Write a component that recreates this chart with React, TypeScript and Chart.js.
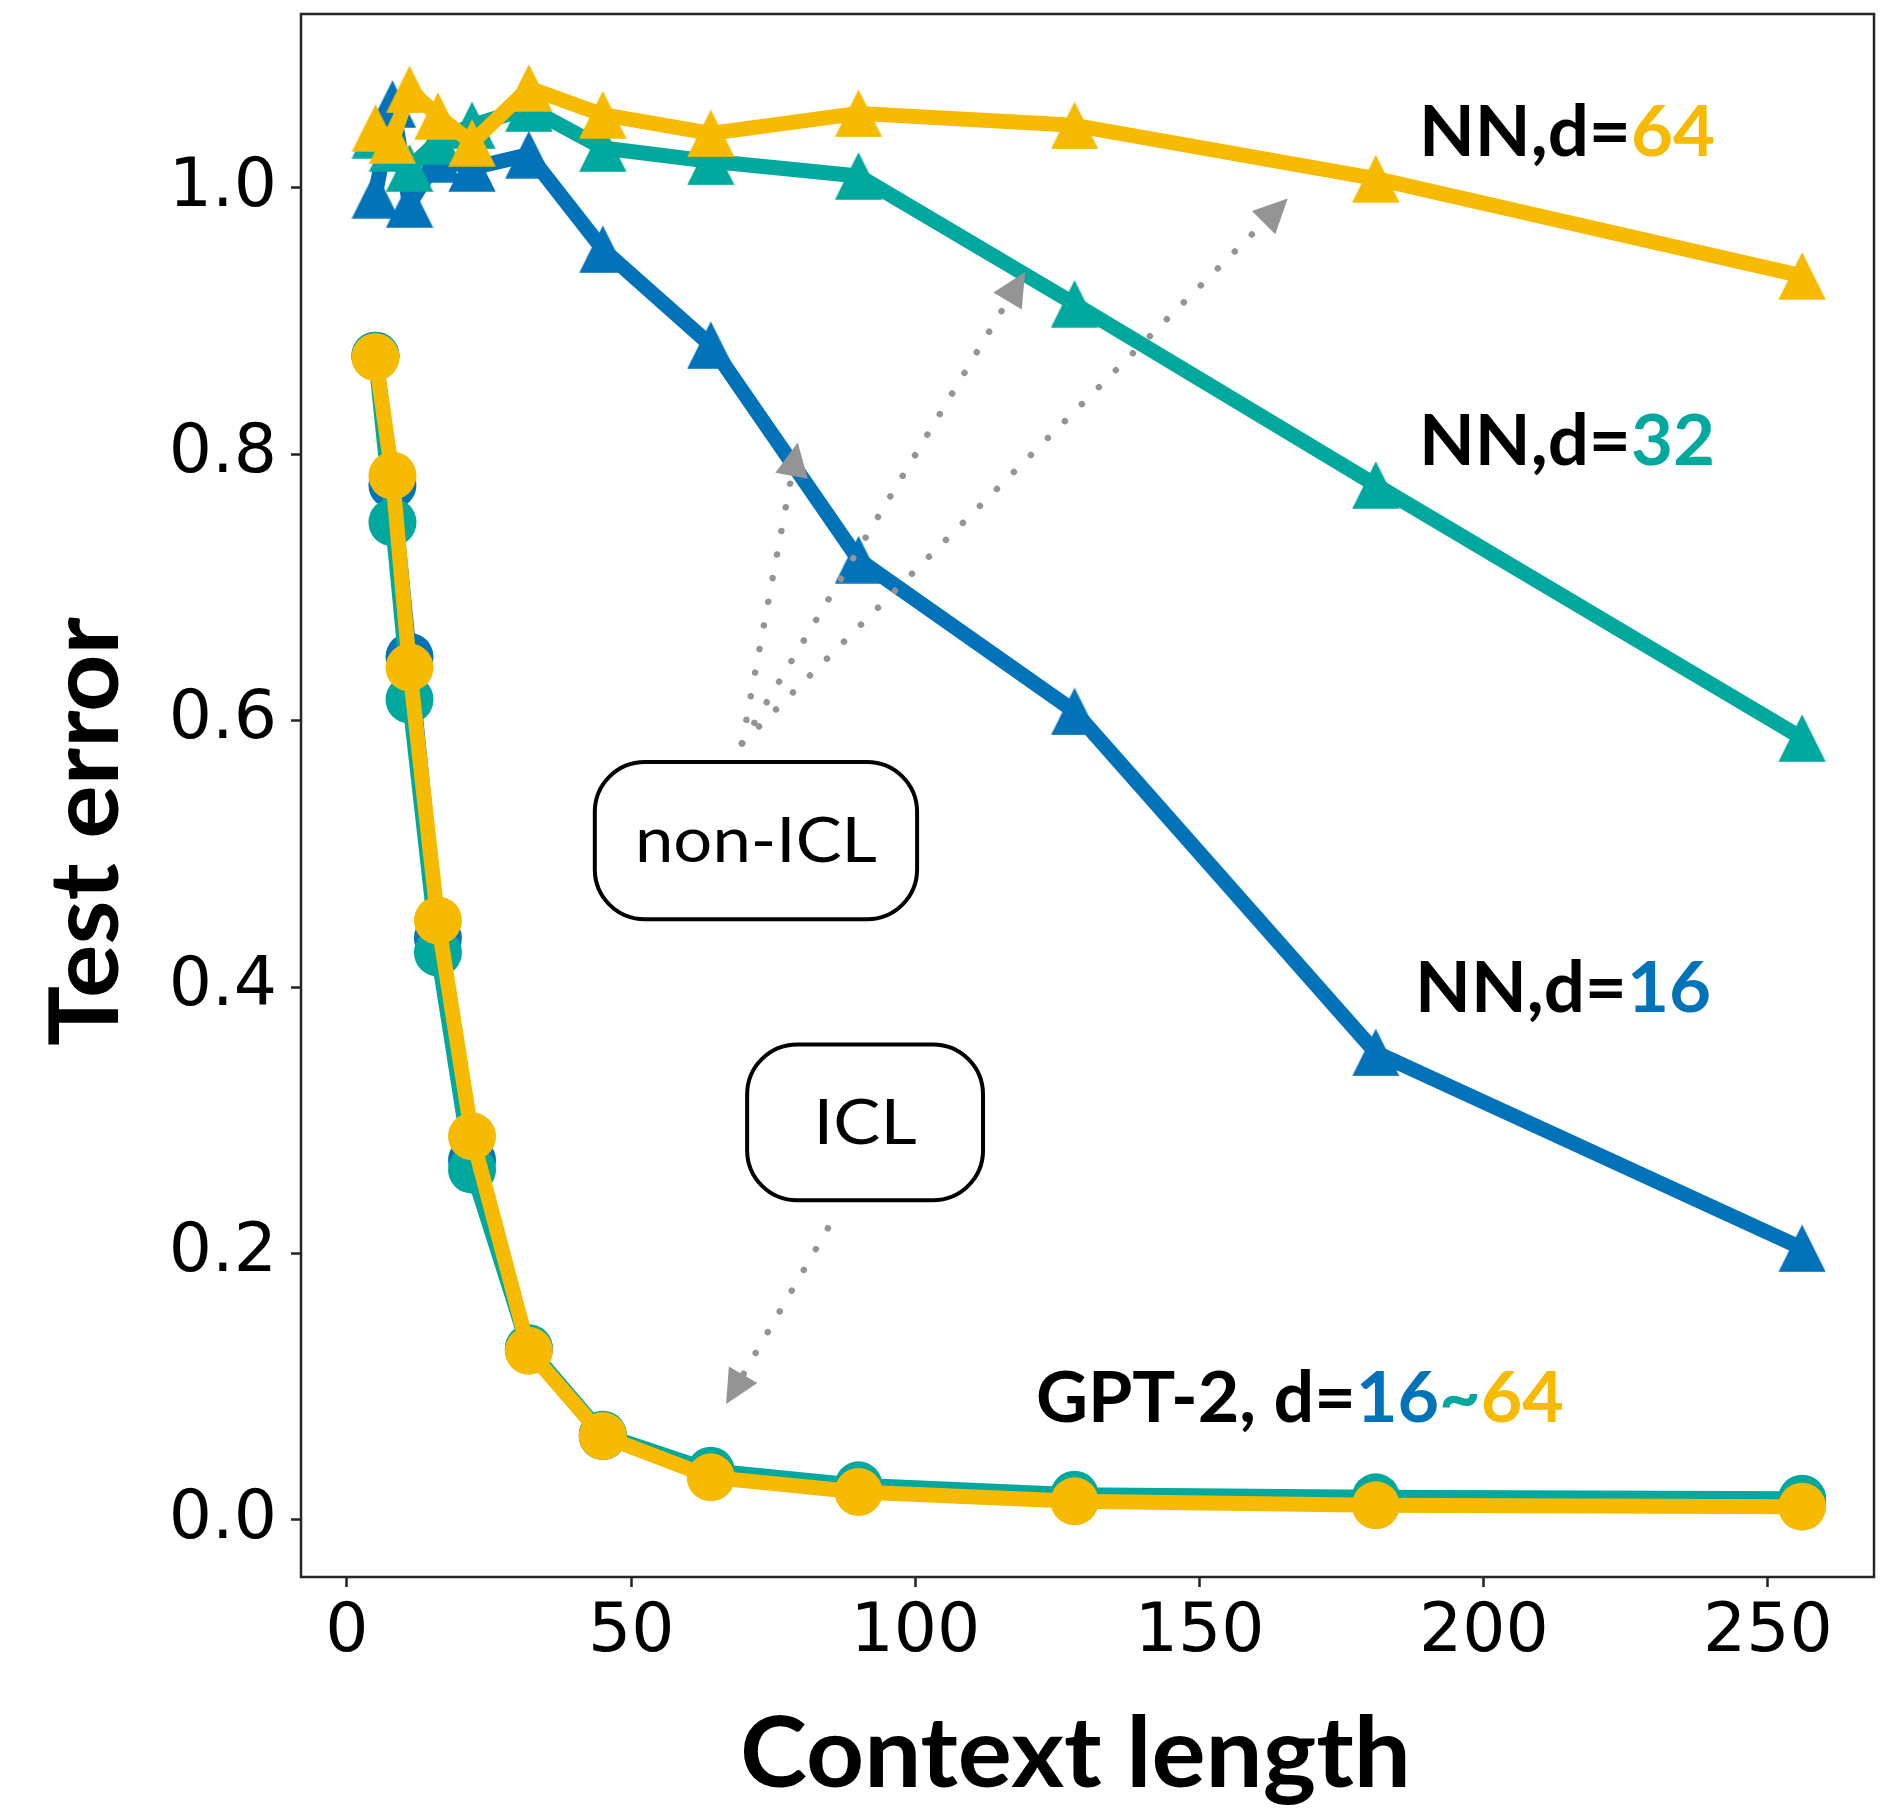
import React, { useEffect, useRef } from 'react';
import { Chart, registerables } from 'chart.js';

Chart.register(...registerables);

// ---------- data ----------
const contextLengths = [5, 8, 11, 16, 22, 32, 45, 64, 90, 128, 181, 256];
const nnD16 = [0.995, 1.063, 0.988, 1.022, 1.015, 1.025, 0.954, 0.882, 0.721, 0.607, 0.351, 0.204];
const nnD32 = [1.04, 1.03, 1.015, 1.035, 1.047, 1.06, 1.03, 1.02, 1.009, 0.913, 0.777, 0.587];
const nnD64 = [1.045, 1.036, 1.074, 1.054, 1.034, 1.075, 1.055, 1.041, 1.056, 1.047, 1.007, 0.934];
const gptD16 = [0.874, 0.777, 0.648, 0.437, 0.27, 0.128, 0.063, 0.035, 0.024, 0.018, 0.016, 0.015];
const gptD32 = [0.874, 0.749, 0.616, 0.426, 0.263, 0.129, 0.064, 0.037, 0.026, 0.019, 0.017, 0.016];
const gptD64 = [0.873, 0.784, 0.64, 0.45, 0.288, 0.127, 0.063, 0.032, 0.021, 0.014, 0.011, 0.01];

const xTickValues = [0, 50, 100, 150, 200, 250];
const yTickValues = [0, 0.2, 0.4, 0.6, 0.8, 1.0];

const X_MIN = -8.09;
const X_MAX = 268.65;
const Y_MIN = -0.0428;
const Y_MAX = 1.1306;

// annotation anchors in data coordinates
const nonIclArrowStart = [69.5, 0.583];
const nonIclArrowTips = [
  [79.3, 0.809],
  [119.3, 0.937],
  [165.5, 0.992],
];
const iclArrowStart = [84.6, 0.219];
const iclArrowTip = [66.7, 0.087];
const nonIclBox = [43.6, 100.3, 0.569, 0.451]; // x0, x1, yTop, yBottom
const iclBox = [70.4, 111.9, 0.357, 0.24];
const nnLabelAnchors = [
  [188.6, 1.024],
  [188.6, 0.792],
  [187.9, 0.381],
];
const gptLabelAnchor = [121.2, 0.0736];

const BLUE = '#0373B9';
const TEAL = '#00A89D';
const YELLOW = '#F6BA00';
const GRAY = '#949494';

function makeTriangle(color: string, size = 48) {
  const c = document.createElement('canvas');
  c.width = size;
  c.height = size;
  const g = c.getContext('2d')!;
  g.fillStyle = color;
  g.beginPath();
  g.moveTo(size / 2, 0.3);
  g.lineTo(size - 0.3, size - 0.3);
  g.lineTo(0.3, size - 0.3);
  g.closePath();
  g.fill();
  return c;
}

type Seg = { text: string; color: string };

function drawSegments(ctx: CanvasRenderingContext2D, segs: Seg[], x: number, baseline: number, targetWidth: number, font: string) {
  ctx.save();
  ctx.font = font;
  ctx.textAlign = 'left';
  ctx.textBaseline = 'alphabetic';
  const widths = segs.map((s) => ctx.measureText(s.text).width);
  const total = widths.reduce((a, b) => a + b, 0);
  const sx = targetWidth / total;
  ctx.translate(x, baseline);
  ctx.scale(sx, 1);
  let cx = 0;
  segs.forEach((s, i) => {
    ctx.fillStyle = s.color;
    ctx.fillText(s.text, cx, 0);
    cx += widths[i];
  });
  ctx.restore();
}

function drawArrow(ctx: CanvasRenderingContext2D, x0: number, y0: number, x1: number, y1: number) {
  const dx = x1 - x0;
  const dy = y1 - y0;
  const len = Math.hypot(dx, dy);
  const ux = dx / len;
  const uy = dy / len;
  const headLen = 34;
  const headW = 33;
  const bx = x1 - ux * headLen;
  const by = y1 - uy * headLen;
  ctx.save();
  ctx.strokeStyle = GRAY;
  ctx.lineWidth = 6.5;
  ctx.lineCap = 'round';
  ctx.setLineDash([0.01, 24]);
  ctx.beginPath();
  ctx.moveTo(x0, y0);
  ctx.lineTo(bx, by);
  ctx.stroke();
  ctx.setLineDash([]);
  ctx.fillStyle = GRAY;
  ctx.beginPath();
  ctx.moveTo(x1, y1);
  ctx.lineTo(bx - (uy * headW) / 2, by + (ux * headW) / 2);
  ctx.lineTo(bx + (uy * headW) / 2, by - (ux * headW) / 2);
  ctx.closePath();
  ctx.fill();
  ctx.restore();
}

function roundBox(ctx: CanvasRenderingContext2D, x0: number, y0: number, x1: number, y1: number, r: number) {
  ctx.beginPath();
  ctx.moveTo(x0 + r, y0);
  ctx.lineTo(x1 - r, y0);
  ctx.arcTo(x1, y0, x1, y0 + r, r);
  ctx.lineTo(x1, y1 - r);
  ctx.arcTo(x1, y1, x1 - r, y1, r);
  ctx.lineTo(x0 + r, y1);
  ctx.arcTo(x0, y1, x0, y1 - r, r);
  ctx.lineTo(x0, y0 + r);
  ctx.arcTo(x0, y0, x0 + r, y0, r);
  ctx.closePath();
  ctx.stroke();
}

const annotationPlugin = {
  id: 'figureAnnotations',
  afterDraw(chart: any) {
    const ctx: CanvasRenderingContext2D = chart.ctx;
    const xs = chart.scales.x;
    const ys = chart.scales.y;
    const px = (v: number) => xs.getPixelForValue(v);
    const py = (v: number) => ys.getPixelForValue(v);
    const a = chart.chartArea;

    ctx.save();
    // spines
    ctx.strokeStyle = '#262626';
    ctx.lineWidth = 2.5;
    ctx.strokeRect(a.left, a.top, a.right - a.left, a.bottom - a.top);

    // arrows
    nonIclArrowTips.forEach((t) => {
      drawArrow(ctx, px(nonIclArrowStart[0]), py(nonIclArrowStart[1]), px(t[0]), py(t[1]));
    });
    drawArrow(ctx, px(iclArrowStart[0]), py(iclArrowStart[1]), px(iclArrowTip[0]), py(iclArrowTip[1]));

    // boxes
    const boxes: [number[], string, number][] = [
      [nonIclBox, 'non-ICL', 242],
      [iclBox, 'ICL', 103],
    ];
    boxes.forEach(([b, label, w]) => {
      const x0 = px(b[0]);
      const x1 = px(b[1]);
      const y0 = py(b[2]);
      const y1 = py(b[3]);
      ctx.strokeStyle = '#000';
      ctx.lineWidth = 4;
      roundBox(ctx, x0, y0, x1, y1, 50);
      const cx = (x0 + x1) / 2;
      const cy = (y0 + y1) / 2;
      drawSegments(ctx, [{ text: label, color: '#000' }], cx - w / 2, cy + 21.5, w, '400 61px Lato');
    });

    // NN labels
    const nnLabels: [string, string][] = [
      ['64', YELLOW],
      ['32', TEAL],
      ['16', BLUE],
    ];
    nnLabels.forEach(([d, color], i) => {
      const anc = nnLabelAnchors[i];
      drawSegments(
        ctx,
        [
          { text: 'NN,d=', color: '#000' },
          { text: d, color },
        ],
        px(anc[0]),
        py(anc[1]),
        296,
        'bold 71px Lato'
      );
    });
    drawSegments(
      ctx,
      [
        { text: 'GPT-2, d=', color: '#000' },
        { text: '16', color: BLUE },
        { text: '~', color: TEAL },
        { text: '64', color: YELLOW },
      ],
      px(gptLabelAnchor[0]),
      py(gptLabelAnchor[1]),
      528,
      'bold 70px Lato'
    );

    // axis titles
    drawSegments(ctx, [{ text: 'Context length', color: '#000' }], 740, 1787, 671, 'bold 98px Lato');
    ctx.save();
    ctx.translate(118, 1046);
    ctx.rotate(-Math.PI / 2);
    drawSegments(ctx, [{ text: 'Test error', color: '#000' }], 0, 0, 429, 'bold 96px Lato');
    ctx.restore();

    ctx.restore();
  },
};

export default function App() {
  const canvasRef = useRef<HTMLCanvasElement | null>(null);

  useEffect(() => {
    const canvas = canvasRef.current;
    if (!canvas) return;
    const triBlue = makeTriangle(BLUE);
    const triTeal = makeTriangle(TEAL);
    const triYellow = makeTriangle(YELLOW);
    const pts = (ys: number[]) => contextLengths.map((x, i) => ({ x, y: ys[i] }));

    const common = {
      borderWidth: 15,
      borderJoinStyle: 'round' as const,
      borderCapStyle: 'butt' as const,
      tension: 0,
      clip: 0,
      pointBorderWidth: 0,
      pointHoverRadius: 0,
    };

    const chart = new Chart(canvas, {
      type: 'line',
      data: {
        datasets: [
          { ...common, label: 'NN d=64', data: pts(nnD64), borderColor: YELLOW, backgroundColor: YELLOW, pointStyle: triYellow as any, pointRadius: 24, order: 0 },
          { ...common, label: 'GPT-2 d=64', data: pts(gptD64), borderColor: YELLOW, backgroundColor: YELLOW, pointStyle: 'circle', pointRadius: 24, order: 1 },
          { ...common, label: 'NN d=32', data: pts(nnD32), borderColor: TEAL, backgroundColor: TEAL, pointStyle: triTeal as any, pointRadius: 24, order: 2 },
          { ...common, label: 'GPT-2 d=32', data: pts(gptD32), borderColor: TEAL, backgroundColor: TEAL, pointStyle: 'circle', pointRadius: 24, order: 3 },
          { ...common, label: 'NN d=16', data: pts(nnD16), borderColor: BLUE, backgroundColor: BLUE, pointStyle: triBlue as any, pointRadius: 24, order: 4 },
          { ...common, label: 'GPT-2 d=16', data: pts(gptD16), borderColor: BLUE, backgroundColor: BLUE, pointStyle: 'circle', pointRadius: 24, order: 5 },
        ],
      },
      options: {
        responsive: false,
        animation: false,
        devicePixelRatio: 1,
        layout: { autoPadding: false, padding: { left: 0, top: 14, right: 22, bottom: 0 } },
        plugins: { legend: { display: false }, tooltip: { enabled: false } },
        events: [],
        scales: {
          x: {
            type: 'linear',
            min: X_MIN,
            max: X_MAX,
            afterBuildTicks: (s: any) => {
              s.ticks = xTickValues.map((v) => ({ value: v }));
            },
            afterFit: (s: any) => {
              s.height = 232;
              s.paddingLeft = 0;
              s.paddingRight = 0;
              s.paddingTop = 0;
              s.paddingBottom = 0;
            },
            ticks: {
              autoSkip: false,
              maxRotation: 0,
              minRotation: 0,
              padding: 6,
              color: '#000',
              font: { family: 'DejaVu Sans', size: 68 },
              callback: (v: any) => String(v),
            },
            grid: { display: true, drawOnChartArea: false, drawTicks: true, tickLength: 10, tickWidth: 2.5, tickColor: '#222' },
            border: { display: false },
          },
          y: {
            type: 'linear',
            min: Y_MIN,
            max: Y_MAX,
            afterBuildTicks: (s: any) => {
              s.ticks = yTickValues.map((v) => ({ value: v }));
            },
            afterFit: (s: any) => {
              s.width = 301;
              s.paddingLeft = 0;
              s.paddingRight = 0;
              s.paddingTop = 0;
              s.paddingBottom = 0;
            },
            ticks: {
              autoSkip: false,
              padding: 14,
              color: '#000',
              font: { family: 'DejaVu Sans', size: 68 },
              callback: (v: any) => Number(v).toFixed(1),
            },
            grid: { display: true, drawOnChartArea: false, drawTicks: true, tickLength: 10, tickWidth: 2.5, tickColor: '#222' },
            border: { display: false },
          },
        },
      },
      plugins: [annotationPlugin],
    } as any);

    return () => chart.destroy();
  }, []);

  return (
    <div style={{ position: 'absolute', left: 0, top: 0, width: 1896, height: 1809, background: '#fff' }}>
      <canvas ref={canvasRef} width={1896} height={1809} style={{ width: 1896, height: 1809, display: 'block' }} />
    </div>
  );
}
